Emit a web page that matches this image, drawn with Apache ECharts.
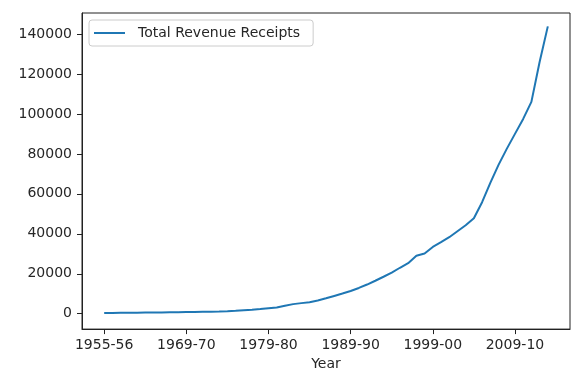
<!DOCTYPE html>
<html>
<head>
<meta charset="utf-8">
<script src="https://cdn.jsdelivr.net/npm/echarts@6/dist/echarts.min.js"></script>
<style>
  html, body { margin: 0; padding: 0; background: #fff; }
  #chart { width: 576px; height: 376px; }
</style>
</head>
<body>
<div id="chart"></div>
<script>
// Fiscal years (1956-57 .. 1959-60 are absent from the series)
const years = [
  '1955-56',
  '1960-61', '1961-62', '1962-63', '1963-64', '1964-65', '1965-66', '1966-67', '1967-68', '1968-69',
  '1969-70', '1970-71', '1971-72', '1972-73', '1973-74', '1974-75', '1975-76', '1976-77', '1977-78', '1978-79',
  '1979-80', '1980-81', '1981-82', '1982-83', '1983-84', '1984-85', '1985-86', '1986-87', '1987-88', '1988-89',
  '1989-90', '1990-91', '1991-92', '1992-93', '1993-94', '1994-95', '1995-96', '1996-97', '1997-98', '1998-99',
  '1999-00', '2000-01', '2001-02', '2002-03', '2003-04', '2004-05', '2005-06', '2006-07', '2007-08', '2008-09',
  '2009-10', '2010-11', '2011-12', '2012-13', '2013-14'
];

const totalRevenueReceipts = [
  350,
  420, 450, 480, 520, 560, 600, 650, 700, 760,
  820, 880, 950, 1020, 1100, 1250, 1450, 1750, 2000, 2300,
  2700, 3100, 4000, 4800, 5300, 5700, 6600, 7700, 8900, 10100,
  11400, 12900, 14600, 16500, 18500, 20600, 23000, 25300, 29000, 30100,
  33400, 35800, 38300, 41300, 44300, 47800, 55800, 65500, 74500, 82500,
  90000, 97500, 106000, 126000, 143800
];

// Tick positions (row index on x, value on y)
const xTickIndices = [0, 10, 20, 30, 40, 50];
const yTickValues = [0, 20000, 40000, 60000, 80000, 100000, 120000, 140000];

const seriesName = 'Total Revenue Receipts';
const font = 'DejaVu Sans';
const ink = '#262626';
const lineBlue = '#1f77b4';

const chart = echarts.init(document.getElementById('chart'), null, { renderer: 'canvas' });

chart.setOption({
  animation: false,
  backgroundColor: '#ffffff',
  grid: {
    left: 82, right: 6, top: 13, bottom: 43,
    show: true, borderColor: '#222', borderWidth: 1, backgroundColor: 'transparent'
  },
  legend: {
    show: true,
    left: 89, top: 20,
    padding: [5, 13, 5, 5],
    backgroundColor: 'rgba(255,255,255,0.8)',
    borderColor: '#cccccc',
    borderWidth: 1,
    borderRadius: 3,
    icon: 'rect',
    itemWidth: 31,
    itemHeight: 2,
    textStyle: { fontFamily: font, fontSize: 14, color: ink, padding: [0, 0, 0, 8], lineHeight: 16 },
    data: [{ name: seriesName, itemStyle: { color: lineBlue } }]
  },
  xAxis: {
    type: 'value',
    min: -2.7,
    max: 56.7,
    name: 'Year',
    nameLocation: 'middle',
    nameGap: 27,
    nameTextStyle: { fontFamily: font, fontSize: 14, color: ink },
    axisLine: { show: true, onZero: false, lineStyle: { color: '#222', width: 1 } },
    axisTick: { show: true, length: 5, lineStyle: { color: '#222' }, customValues: xTickIndices },
    splitLine: { show: false },
    axisLabel: {
      fontFamily: font, fontSize: 14, color: ink, margin: 9,
      customValues: xTickIndices,
      formatter: (v) => years[Math.round(v)] || ''
    }
  },
  yAxis: {
    type: 'value',
    min: -7700,
    max: 150500,
    axisLine: { show: true, onZero: false, lineStyle: { color: '#222', width: 1 } },
    axisTick: { show: true, length: 5, lineStyle: { color: '#222' }, customValues: yTickValues },
    splitLine: { show: false },
    axisLabel: {
      fontFamily: font, fontSize: 14, color: ink, margin: 10,
      customValues: yTickValues,
      formatter: (v) => String(v)
    }
  },
  series: [{
    name: seriesName,
    type: 'line',
    data: totalRevenueReceipts.map((v, i) => [i, v]),
    showSymbol: false,
    symbol: 'none',
    smooth: false,
    lineStyle: { color: lineBlue, width: 2 },
    itemStyle: { color: lineBlue }
  }]
});
</script>
</body>
</html>
